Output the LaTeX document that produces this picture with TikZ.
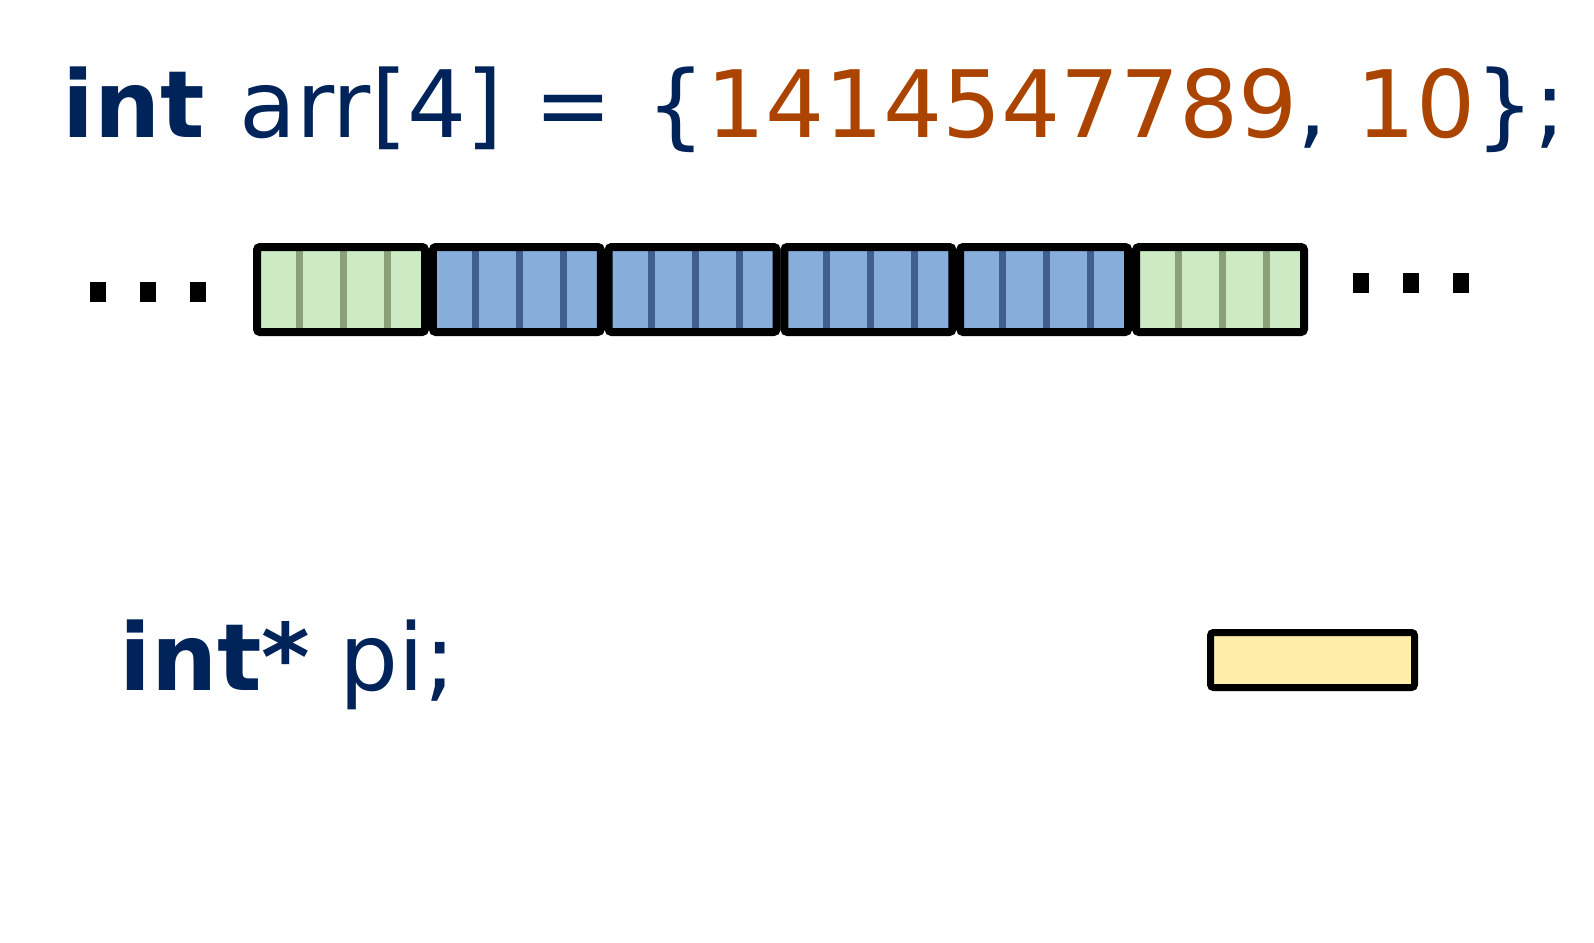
\documentclass[tikz,border=0pt]{standalone}
\usepackage{fontspec}
\setmainfont{DejaVu Sans}
\definecolor{navy}{HTML}{00235A}
\definecolor{rust}{HTML}{AA4400}
\definecolor{gfill}{HTML}{CCEBC5}
\definecolor{gline}{HTML}{8AA078}
\definecolor{bfill}{HTML}{87AEDB}
\definecolor{bline}{HTML}{405F8F}
\definecolor{yfill}{HTML}{FFEDAA}
\tikzset{
  code/.style={anchor=base west, inner sep=0pt, text=navy, font=\fontsize{93}{110}\selectfont},
  blockbox/.style={draw=black, line width=8pt, rounded corners=3pt},
  dotsq/.style={fill=black, draw=none},
}
\begin{document}
\begin{tikzpicture}[x=1pt,y=-1pt]
\useasboundingbox (0,0) rectangle (1594,942);
\node[code] (decl) at (62,137) {\textbf{int}\hspace{5pt} arr[4]\hspace{2pt} =\hspace{5pt} \{\textcolor{rust}{1414547789}, \textcolor{rust}{10}\};};
\node[code] (ptr) at (119,690) {\textbf{int*} pi;};
% left dots
\foreach \x in {90,140,190}{
  \path[dotsq] (\x,282) rectangle (\x+16,302);
}
% right dots
\foreach \x in {1353,1403,1453}{
  \path[dotsq] (\x,273) rectangle (\x+16,293);
}
% memory blocks
\foreach \k/\f/\l in {0/gfill/gline,1/bfill/bline,2/bfill/bline,3/bfill/bline,4/bfill/bline,5/gfill/gline}{
  \pgfmathsetmacro{\L}{253+175.8*\k}
  \fill[\f] (\L+6,249) rectangle (\L+170,330);
  \foreach \j in {0,1,2}{
    \fill[\l] (\L+43+44*\j,249) rectangle (\L+50+44*\j,330);
  }
  \draw[blockbox] (\L+4,247) rectangle (\L+172,332);
}
% pointer box
\node[blockbox, fill=yfill, minimum width=204pt, minimum height=55pt, inner sep=0pt, line width=7pt] (pibox) at (1312.5,660) {};
\end{tikzpicture}
\end{document}
